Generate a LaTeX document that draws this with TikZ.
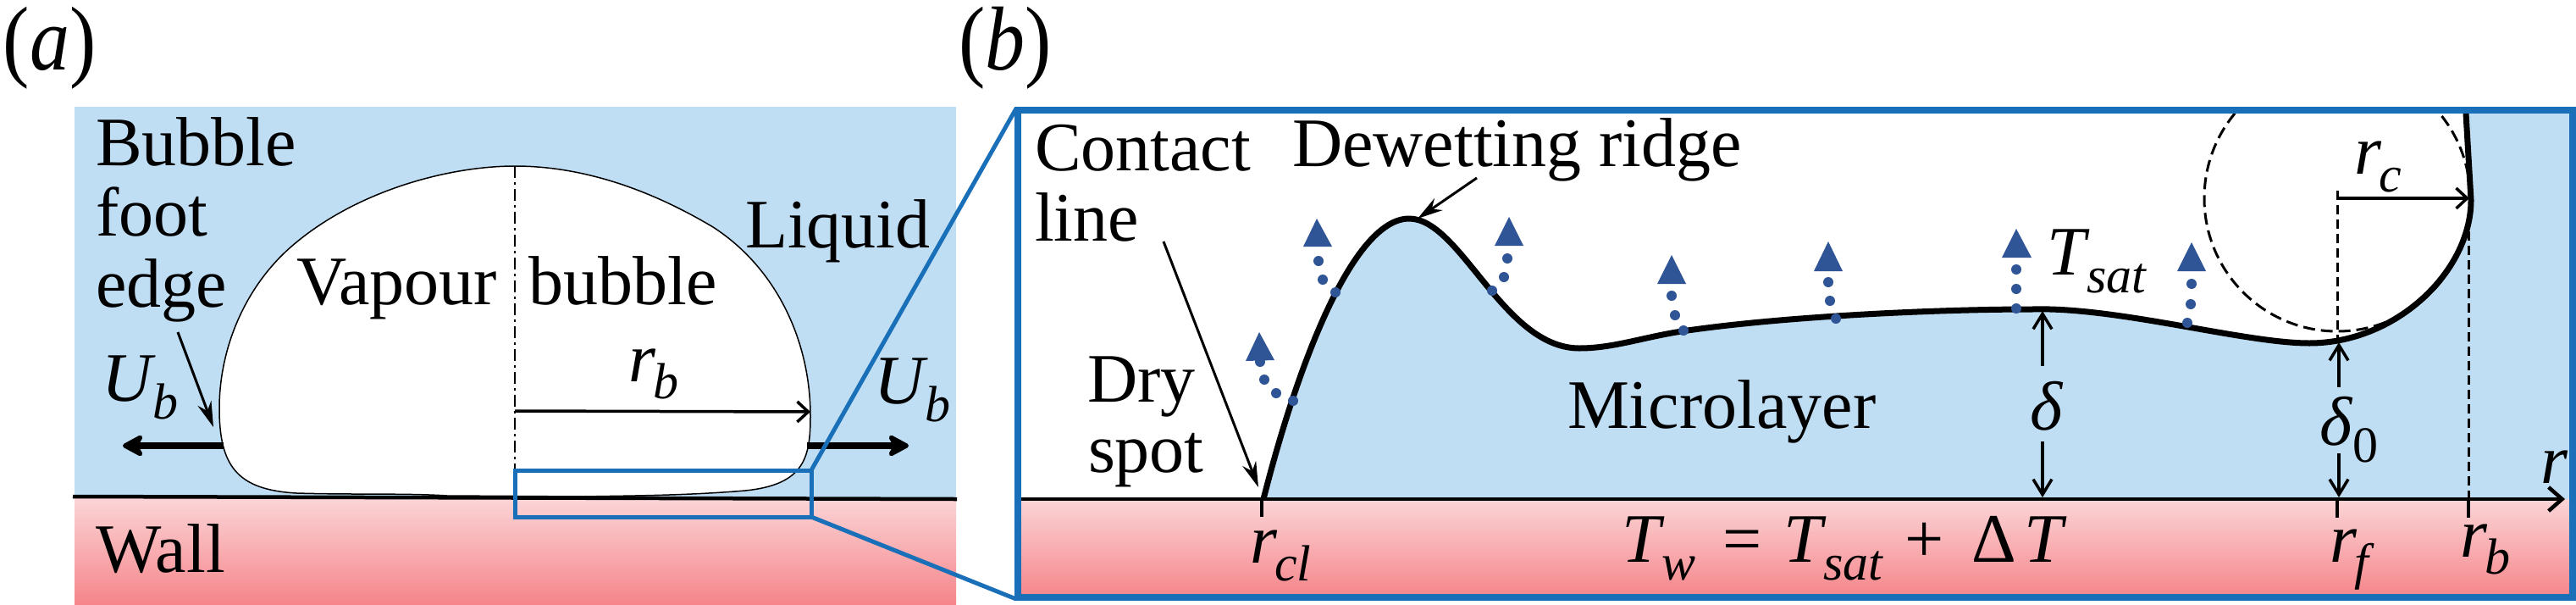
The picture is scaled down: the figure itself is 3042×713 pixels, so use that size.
\documentclass[tikz,border=0pt]{standalone}
\usepackage{fontspec}
\setmainfont{Liberation Serif}
\usetikzlibrary{arrows.meta}
\definecolor{liquidblue}{HTML}{BFDDF3}
\definecolor{walltop}{HTML}{FBD5D7}
\definecolor{wallbot}{HTML}{F5858A}
\definecolor{framecol}{HTML}{1A70B8}
\definecolor{vapourcol}{HTML}{2F5597}
\newcommand{\subi}[2][-21pt]{\kern-3pt\raisebox{#1}{\fontsize{60}{60}\selectfont\textit{#2}}}
\newcommand{\ifacecurve}{(1492,589) .. controls (1535,420) and (1600,258) .. (1664,258) .. controls (1725,258) and (1775,411) .. (1865,411) .. controls (1905,411) and (1940,398) .. (1986,391) .. controls (2100,374) and (2280,365) .. (2400,365) .. controls (2500,362) and (2650,405) .. (2727,405) .. controls (2830,405) and (2918,320) .. (2918,236)}
\newcommand{\tallpar}[1]{\scalebox{1}[1.14]{#1}}
\tikzset{
  lbl/.style={anchor=base west,inner sep=0pt,outer sep=0pt,font=\fontsize{82}{82}\selectfont},
  panellbl/.style={anchor=base west,inner sep=0pt,outer sep=0pt,font=\fontsize{94}{94}\selectfont},
  framed/.style={draw=framecol},
  thinarrow/.style={line width=3pt,-{Stealth[length=30pt,width=17pt]}},
  openarrow/.style={line width=3.5pt,-{Straight Barb[length=13pt,width=24pt,line width=3.5pt]}},
  bothopen/.style={line width=3.5pt,-{Straight Barb[length=18pt,width=22pt,line width=3.5pt]}},
  fatarrow/.style={line width=8pt,-{Stealth[length=30pt,width=32pt,inset=9pt,round]}},
  vdash/.style={line width=3pt,dash pattern=on 11pt off 6pt},
  vapourdot/.style={circle,fill=vapourcol,inner sep=0pt,minimum size=12pt},
  vapourtip/.style={fill=vapourcol},
  tick/.style={line width=4pt}
}
\begin{document}
\begin{tikzpicture}[x=1pt,y=-1pt]
\useasboundingbox (0,0) rectangle (3042,713);
% ---------- panel (a)
\fill[liquidblue] (88,126) rectangle (1129,587);
\shade[top color=walltop,bottom color=wallbot] (88,587) rectangle (1129,713);
\draw[line width=1.5pt,fill=white] (608,196) .. controls (690,196) and (770,225) .. (842,268) .. controls (915,315) and (957,400) .. (957,491) .. controls (957,540) and (950,572) .. (880,579) .. controls (810,585) and (740,585) .. (689,586) -- (528,585) .. controls (480,582) and (420,584) .. (350,582) .. controls (280,578) and (259,550) .. (259,482) .. controls (259,410) and (290,338) .. (344,291) .. controls (420,225) and (530,196) .. (608,196) -- cycle;
\coordinate (wallL) at (86,586);
\coordinate (wallR) at (1130,589);
\draw[line width=4.5pt] (wallL) -- (wallR);
\coordinate (axisTop) at (608,196);
\coordinate (axisBot) at (608,555);
\draw[line width=2.5pt,dash pattern=on 14pt off 5pt on 3pt off 5pt] (axisTop) -- (axisBot);
\coordinate (rbS) at (608,485);
\coordinate (rbE) at (957,486);
\draw[openarrow] (rbS) -- (rbE);
\coordinate (footS) at (210,392);
\coordinate (footE) at (252,504);
\draw[thinarrow] (footS) -- (footE);
\coordinate (ubLs) at (264,526);
\coordinate (ubLe) at (145,526);
\coordinate (ubRs) at (953,526);
\coordinate (ubRe) at (1073,526);
\draw[fatarrow] (ubLs) -- (ubLe);
\draw[fatarrow] (ubRs) -- (ubRe);
% zoom box and lines
\coordinate (zTL) at (608,555);
\coordinate (zTR) at (958,555);
\coordinate (zBR) at (958,610);
\coordinate (bTL) at (1200,128);
\coordinate (bBL) at (1200,707);
\draw[framed,line width=5pt] (zTL) rectangle (zBR);
\draw[framed,line width=5pt] (zTR) -- (bTL);
\draw[framed,line width=5pt] (zBR) -- (bBL);
% labels (a)
\node[panellbl] (la) at (4,82) {\tallpar{(\textit{a})}};
\node[panellbl] (lb) at (1132,82) {\tallpar{(\textit{b})}};
\node[lbl] (t1) at (113,195) {Bubble};
\node[lbl] (t2) at (113,278) {foot};
\node[lbl] (t3) at (113,362) {edge};
\node[lbl] (t4) at (880,292) {Liquid};
\node[lbl] (t5) at (350,359) {Vapour};
\node[lbl] (t6) at (624,359) {bubble};
\node[lbl] (t7) at (113,675) {Wall};
\node[lbl] (ubl) at (120,473) {\textit{U}\subi{b}};
\node[lbl] (ubr) at (1032,476) {\textit{U}\subi{b}};
\node[lbl] (rbl) at (742,450) {\textit{r}\subi[-20pt]{b}};
% ---------- panel (b)
\fill[white] (1202,130) rectangle (3038,591);
\shade[top color=walltop,bottom color=wallbot] (1202,589) rectangle (3038,705);
\begin{scope}
\clip (1206,134) rectangle (3034,589);
\fill[liquidblue] \ifacecurve -- (2912,134) -- (3034,134) -- (3034,589) -- cycle;
\draw[line width=3pt,dash pattern=on 14pt off 7pt] (2760,234) circle[radius=157];
\end{scope}
\draw[line width=7pt] \ifacecurve -- (2912,134);
% axis
\coordinate (axL) at (1206,589);
\coordinate (axR) at (3029,589);
\draw[line width=4.5pt,-{Straight Barb[length=16pt,width=28pt,line width=4.5pt]}] (axL) -- (axR);
% ticks and dashed guides
\coordinate (clA) at (1490,589); \coordinate (clB) at (1490,610);
\coordinate (rfA) at (2760,589); \coordinate (rfB) at (2760,611);
\coordinate (rbA) at (2915,589); \coordinate (rbB) at (2915,611);
\draw[tick] (clA) -- (clB);
\draw[tick] (rfA) -- (rfB);
\draw[tick] (rbA) -- (rbB);
\coordinate (rfTop) at (2760,225); \coordinate (rfFoot) at (2760,400);
\coordinate (rbTop) at (2915,273);
\draw[vdash] (rfTop) -- (rfFoot);
\draw[vdash] (rbTop) -- (rbA);
\coordinate (rcS) at (2760,234); \coordinate (rcE) at (2916,234);
\draw[openarrow] (rcS) -- (rcE);
% delta arrows
\coordinate (d1a) at (2412,432); \coordinate (d1b) at (2412,367);
\coordinate (d2a) at (2412,521); \coordinate (d2b) at (2412,587);
\coordinate (d3a) at (2762,457); \coordinate (d3b) at (2762,404);
\coordinate (d4a) at (2762,535); \coordinate (d4b) at (2762,587);
\draw[bothopen] (d1a) -- (d1b);
\draw[bothopen] (d2a) -- (d2b);
\draw[bothopen] (d3a) -- (d3b);
\draw[bothopen] (d4a) -- (d4b);
% pointers
\coordinate (clS) at (1374,285); \coordinate (clE) at (1486,575);
\coordinate (drS) at (1744,210); \coordinate (drE) at (1674,258);
\draw[thinarrow] (clS) -- (clE);
\draw[thinarrow] (drS) -- (drE);
% vapour markers
\fill[vapourtip] (1487,392) -- (1471,426) -- (1505,425) -- cycle;
\fill[vapourtip] (1555,258) -- (1539,291) -- (1573,291) -- cycle;
\fill[vapourtip] (1782,256) -- (1765,290) -- (1799,290) -- cycle;
\fill[vapourtip] (1974,301) -- (1957,335) -- (1991,335) -- cycle;
\fill[vapourtip] (2159,285) -- (2142,320) -- (2176,320) -- cycle;
\fill[vapourtip] (2381,270) -- (2364,304) -- (2399,304) -- cycle;
\fill[vapourtip] (2588,286) -- (2571,320) -- (2605,320) -- cycle;
\foreach \n/\p in {a1/{1488,427},a2/{1493,448},a3/{1507,464},a4/{1527,473},
  b1/{1557,308},b2/{1562,330},b3/{1577,345},
  c1/{1780,305},c2/{1776,327},c3/{1762,343},
  d1/{1974,349},d2/{1978,372},d3/{1988,390},
  e1/{2159,333},e2/{2161,355},e3/{2168,376},
  f1/{2381,318},f2/{2381,341},f3/{2381,364},
  g1/{2588,335},g2/{2587,359},g3/{2583,381}}
  \node[vapourdot] (dot\n) at (\p) {};
% frame
\draw[framed,line width=8.5pt] (1202,130) rectangle (3038,705);
% labels (b)
\node[lbl] (t8) at (1222,201) {Contact};
\node[lbl] (t9) at (1222,284) {line};
\node[lbl] (t10) at (1526,196) {Dewetting ridge};
\node[lbl] (t11) at (1284,474) {Dry};
\node[lbl] (t12) at (1285,557) {spot};
\node[lbl] (t13) at (1851,505) {Microlayer};
\node[lbl] (tsat) at (2417,324) {\textit{T}\subi{sat}};
\node[lbl] (rcl) at (2780,205) {\textit{r}\subi{c}};
\node[lbl] (rax) at (3000,570) {\textit{r}};
\node[lbl] (del) at (2397,507) {\textit{δ}};
\node[lbl] (del0) at (2739,525) {\textit{δ}\raisebox{-20pt}{\fontsize{60}{60}\selectfont 0}};
\node[lbl] (rcll) at (1476,664) {\textit{r}\subi{cl}};
\node[lbl] (rfl) at (2751,663) {\textit{r}\subi[-20pt]{f}};
\node[lbl] (rbb) at (2905,657) {\textit{r}\subi[-20pt]{b}};
\node[lbl] (tw) at (1915,663) {\textit{T}\subi{w}};
\node[lbl] (eq) at (2034,663) {=};
\node[lbl] (tsat2) at (2106,663) {\textit{T}\subi{sat}};
\node[lbl] (plus) at (2249,663) {+};
\node[lbl] (dt) at (2328,663) {Δ};
\node[lbl] (dtT) at (2390,663) {\textit{T}};
\end{tikzpicture}
\end{document}
